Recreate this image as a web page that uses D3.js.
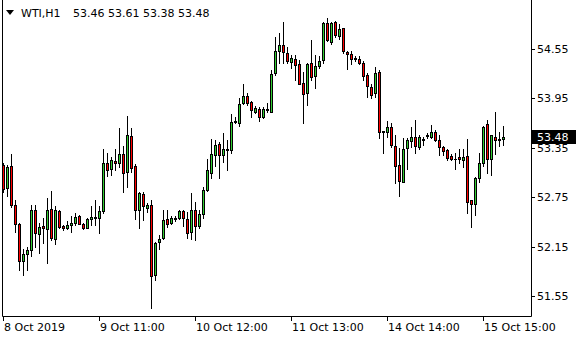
<!DOCTYPE html>
<html><head><meta charset="utf-8">
<script src="https://cdn.jsdelivr.net/npm/d3@7/dist/d3.min.js"></script>
<style>html,body{margin:0;padding:0;background:#fff;}svg{display:block;}</style>
</head><body>
<svg id="c" width="580" height="340"></svg>
<script>
const symbol = "WTI,H1";
const open = [
53.14,52.86,53.13,52.65,52.43,51.98,52.06,52.11,52.59,52.30,
52.40,52.36,52.61,52.24,52.58,52.40,52.37,52.41,52.44,52.52,
52.43,52.38,52.49,52.50,52.50,52.58,53.17,53.09,53.19,53.16,
53.27,53.06,53.49,53.13,52.60,52.79,52.62,52.66,51.80,52.21,
52.25,52.48,52.44,52.49,52.50,52.58,52.49,52.33,52.60,52.40,
52.54,52.84,53.05,53.26,53.40,53.26,53.32,53.32,53.66,53.65,
53.89,53.98,53.91,53.79,53.82,53.73,53.81,53.79,54.26,54.52,
54.60,54.50,54.39,54.43,54.37,54.14,54.01,54.38,54.22,54.34,
54.42,54.86,54.64,54.88,54.71,54.80,54.51,54.49,54.44,54.43,
54.38,54.23,54.09,54.01,54.27,53.54,53.54,53.60,53.37,53.14,
52.94,53.35,53.43,53.48,53.36,53.46,53.49,53.48,53.54,53.45,
53.36,53.32,53.25,53.22,53.24,53.20,53.25,52.71,52.67,52.98,
53.17,53.64,53.21,53.48,53.45,53.46];
const high = [
53.16,53.14,53.27,52.71,52.44,52.12,52.15,52.66,52.66,52.44,
52.50,52.74,52.82,52.64,52.60,52.41,52.46,52.52,52.56,52.53,
52.44,52.50,52.64,52.71,52.64,53.33,53.29,53.24,53.33,53.59,
53.37,53.74,53.59,53.15,52.81,52.81,52.68,52.72,52.21,52.29,
52.60,52.60,52.52,52.52,52.60,52.59,52.57,52.80,52.69,52.60,
52.87,53.21,53.46,53.45,53.42,53.53,53.45,53.76,53.72,53.96,
54.13,54.01,53.92,53.86,53.84,53.85,53.89,54.29,54.69,54.74,
54.88,54.58,54.48,54.48,54.42,54.27,54.38,54.66,54.48,54.46,
54.88,54.93,54.88,54.89,54.85,54.81,54.52,54.53,54.46,54.46,
54.40,54.26,54.12,54.33,54.29,53.56,53.67,53.65,53.51,53.35,
53.47,53.47,53.60,53.69,53.50,53.48,53.53,53.63,53.57,53.50,
53.37,53.33,53.28,53.29,53.33,53.33,53.46,52.72,53.00,53.29,
53.62,53.69,53.51,53.79,53.54,53.61];
const low = [
52.81,52.77,52.63,52.33,51.86,51.81,51.87,52.03,52.14,52.07,
52.19,51.95,52.23,52.18,52.38,52.35,52.36,52.33,52.41,52.42,
52.36,52.37,52.41,52.41,52.32,52.56,53.01,53.02,53.08,53.12,
52.81,52.87,53.06,52.48,52.37,52.47,52.57,51.41,51.75,52.12,
52.24,52.39,52.42,52.46,52.49,52.40,52.25,52.24,52.23,52.38,
52.50,52.83,52.98,53.13,52.98,53.18,53.08,53.29,53.65,53.61,
53.88,53.87,53.73,53.77,53.67,53.71,53.79,53.78,54.24,54.38,
54.38,54.38,54.32,54.17,54.12,53.65,53.87,54.17,54.08,54.32,
54.38,54.65,54.61,54.70,54.67,54.50,54.31,54.37,54.41,54.37,
54.17,53.97,53.96,53.97,53.47,53.29,53.48,53.36,52.92,52.77,
52.93,53.09,53.36,53.29,53.33,53.39,53.47,53.47,53.43,53.26,
53.26,53.20,53.20,53.09,53.16,53.12,52.56,52.39,52.53,52.93,
53.13,53.05,53.02,53.28,53.37,53.38];
const close = [
52.85,53.12,52.65,52.43,51.98,52.06,52.11,52.60,52.31,52.39,
52.37,52.60,52.25,52.59,52.39,52.38,52.41,52.44,52.51,52.43,
52.37,52.49,52.51,52.51,52.58,53.16,53.08,53.20,53.16,53.27,
53.05,53.50,53.11,52.60,52.80,52.64,52.65,51.79,52.19,52.24,
52.47,52.43,52.50,52.50,52.58,52.50,52.32,52.60,52.40,52.54,
52.84,53.08,53.27,53.39,53.26,53.33,53.33,53.66,53.68,53.88,
53.98,53.90,53.81,53.83,53.72,53.82,53.82,54.25,54.53,54.60,
54.51,54.40,54.44,54.36,54.13,54.00,54.37,54.21,54.34,54.41,
54.87,54.66,54.86,54.72,54.79,54.52,54.49,54.43,54.43,54.38,
54.22,54.10,53.99,54.26,53.54,53.55,53.60,53.38,53.13,52.95,
53.34,53.44,53.48,53.37,53.48,53.44,53.50,53.54,53.44,53.36,
53.31,53.23,53.21,53.21,53.21,53.24,52.69,52.67,52.98,53.16,
53.60,53.21,53.50,53.44,53.46,53.48];
const priceTicks = [51.55, 52.15, 52.75, 53.35, 53.95, 54.55];
const timeTickIndex = [0, 24, 48, 72, 96, 120];
const timeTickLabels = ["8 Oct 2019", "9 Oct 11:00", "10 Oct 12:00", "11 Oct 13:00", "14 Oct 14:00", "15 Oct 15:00"];

const n = open.length;
const bars = d3.range(n).map(i => ({i, o: open[i], h: high[i], l: low[i], c: close[i]}));
const svg = d3.select("#c");
const FONT = "DejaVu Sans, Verdana, sans-serif";

const x = d3.scaleLinear().domain([0, n - 1]).range([3, 503]);
const y = d3.scaleLinear().domain([51.55, 54.55]).range([296, 49]);
const px = v => Math.round(x(v));
const py = v => Math.round(y(v));

svg.append("rect").attr("width", 580).attr("height", 340).attr("fill", "#fff");

// candles
const g = svg.append("g");
bars.forEach(d => {
  const cx = px(d.i);
  g.append("line").attr("x1", cx + 0.5).attr("x2", cx + 0.5)
    .attr("y1", py(d.h)).attr("y2", py(d.l) + 1)
    .attr("stroke", "#000").attr("stroke-width", 1).attr("shape-rendering", "crispEdges");
  const top = py(Math.max(d.o, d.c)), bot = py(Math.min(d.o, d.c));
  if (bot - top >= 1) {
    g.append("rect").attr("x", cx - 0.5).attr("y", top + 0.5)
      .attr("width", 2).attr("height", bot - top)
      .attr("fill", d.c >= d.o ? "#32cd32" : "#ff0000")
      .attr("stroke", "#000").attr("stroke-width", 1);
  } else {
    g.append("line").attr("x1", cx - 1).attr("x2", cx + 2)
      .attr("y1", top + 0.5).attr("y2", top + 0.5)
      .attr("stroke", "#000").attr("stroke-width", 1);
  }
});

// frame
svg.append("path").attr("d", "M2.5,0V316.5H531.5V0").attr("fill", "none").attr("stroke", "#000").attr("stroke-width", 1);

// price axis
priceTicks.forEach(v => {
  const yy = py(v) + 0.5;
  svg.append("line").attr("x1", 531).attr("x2", 535).attr("y1", yy).attr("y2", yy).attr("stroke", "#000");
  svg.append("text").attr("x", 537).attr("y", yy).attr("dy", "0.36em")
    .attr("font-family", FONT).attr("font-size", 11).attr("fill", "#000").text(v.toFixed(2));
});

// current price label
const last = close[n - 1];
const ly = py(last);
svg.append("rect").attr("x", 532).attr("y", ly - 7).attr("width", 44).attr("height", 14).attr("fill", "#000");
svg.append("text").attr("x", 537).attr("y", ly).attr("dy", "0.36em")
  .attr("font-family", FONT).attr("font-size", 11).attr("fill", "#fff").text(last.toFixed(2));

// time axis
timeTickIndex.forEach((idx, k) => {
  const xx = px(idx) + 0.5;
  svg.append("line").attr("x1", xx).attr("x2", xx).attr("y1", 316).attr("y2", 321).attr("stroke", "#000");
  svg.append("text").attr("x", px(idx) + 1).attr("y", 331)
    .attr("font-family", FONT).attr("font-size", 11).attr("fill", "#000").text(timeTickLabels[k]);
});

// header
svg.append("path").attr("d", "M6,10H14L10,15Z").attr("fill", "#000");
const hdr = [open[n-1], high[n-1], low[n-1], close[n-1]].map(v => v.toFixed(2)).join(" ");
svg.append("text").attr("x", 21).attr("y", 17).attr("font-family", FONT).attr("font-size", 11).attr("fill", "#000").text(symbol);
svg.append("text").attr("x", 73).attr("y", 17).attr("font-family", FONT).attr("font-size", 11).attr("fill", "#000").text(hdr);
</script>
</body></html>
